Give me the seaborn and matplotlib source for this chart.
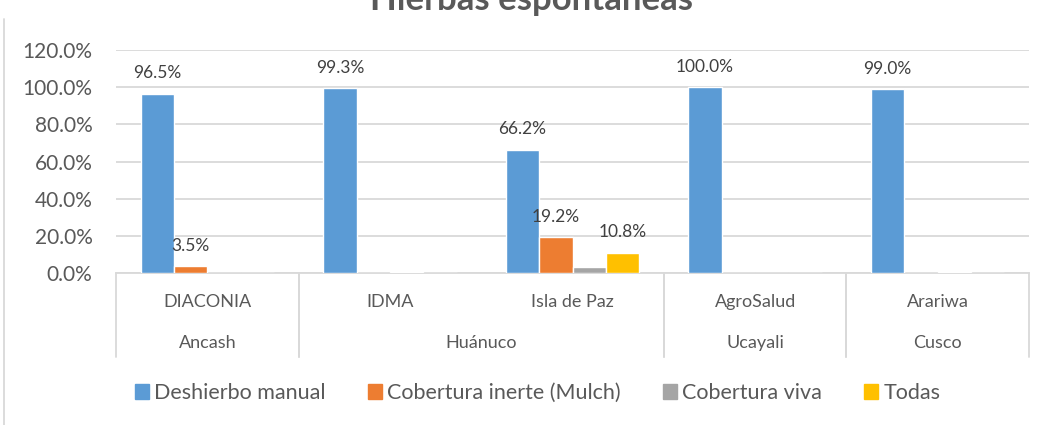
import pandas as pd
import matplotlib.pyplot as plt
import matplotlib.ticker as mticker
import seaborn as sns

# Data
organizaciones = ["DIACONIA", "IDMA", "Isla de Paz", "AgroSalud", "Arariwa"]
regiones = ["Ancash", "Huánuco", "Huánuco", "Ucayali", "Cusco"]
series = ["Deshierbo manual", "Cobertura inerte (Mulch)", "Cobertura viva", "Todas"]
deshierbo = [96.5, 99.3, 66.2, 100.0, 99.0]
mulch = [3.5, 0.0, 19.2, 0.0, 0.0]
viva = [0.0, 0.5, 3.0, 0.0, 0.5]
todas = [0.0, 0.0, 10.8, 0.0, 0.0]
colores = ["#5B9BD5", "#ED7D31", "#A5A5A5", "#FFC000"]

TXT = "#595959"
GRID = "#D9D9D9"


def build_df():
    rows = []
    for name, vals in zip(series, [deshierbo, mulch, viva, todas]):
        for org, v in zip(organizaciones, vals):
            rows.append({"Organizacion": org, "Metodo": name, "Valor": v})
    return pd.DataFrame(rows)


sns.set_theme(style="white")
plt.rcParams["font.family"] = ["Lato", "DejaVu Sans"]

df = build_df()
fig = plt.figure(figsize=(10.46, 4.25), dpi=100)
ax = fig.add_axes([116 / 1046, 1 - 273 / 425, (1029 - 116) / 1046, 223 / 425])

sns.barplot(data=df, x="Organizacion", y="Valor", hue="Metodo", order=organizaciones,
            hue_order=series, palette=colores, width=0.73, saturation=1,
            errorbar=None, ax=ax, legend=True, zorder=3)

ax.set_xlim(-0.5, 4.5)
ax.set_ylim(0, 120)
ax.yaxis.set_major_locator(mticker.MultipleLocator(20))
ax.yaxis.set_major_formatter(mticker.FuncFormatter(lambda v, p: f"{v:.1f}%"))
ax.tick_params(axis="y", length=0, pad=17, labelsize=15, labelcolor=TXT)
ax.tick_params(axis="x", length=0, labelbottom=False)
ax.set_xlabel("")
ax.set_ylabel("")
ax.yaxis.grid(True, color=GRID, lw=1.3, zorder=0)
for s in ["top", "right", "left"]:
    ax.spines[s].set_visible(False)
ax.spines["bottom"].set_color(GRID)
ax.spines["bottom"].set_linewidth(1.3)

# data labels (grey series has none, zero values hidden)
for i, cont in enumerate(ax.containers):
    vals = [deshierbo, mulch, viva, todas][i]
    labs = [f"{v:.1f}%" if (v > 0 and i != 2) else "" for v in vals]
    ax.bar_label(cont, labels=labs, padding=9, fontsize=12.5, color="#404040", zorder=4)

# two-level category axis
trans = ax.get_xaxis_transform()
for k, org in enumerate(organizaciones):
    ax.text(k, -0.13, org, transform=trans, ha="center", va="center", fontsize=13, color=TXT)
grupos = []
for k, reg in enumerate(regiones):
    if grupos and grupos[-1][0] == reg:
        grupos[-1][2] = k
    else:
        grupos.append([reg, k, k])
for reg, a, b in grupos:
    ax.text((a + b) / 2, -0.314, reg, transform=trans, ha="center", va="center", fontsize=13, color=TXT)
    for xl in (a - 0.5, b + 0.5):
        ax.plot([xl, xl], [0, -0.377], transform=trans, color=GRID, lw=1.3, clip_on=False)

ax.get_legend().remove()
handles = [plt.Rectangle((0, 0), 1, 1, color=c) for c in colores]
fig.legend(handles, series, loc="center", bbox_to_anchor=(0.514, 1 - 393 / 425), ncol=4,
           frameon=False, fontsize=15.5, labelcolor=TXT, handlelength=0.65, handleheight=0.65,
           handletextpad=0.25, columnspacing=1.95)

fig.text(0.508, 1 - 10 / 425, "Hierbas espontáneas", ha="center", va="baseline",
         fontsize=25, fontweight="bold", color=TXT)

# chart border at the left edge
fig.add_artist(plt.Line2D([4 / 1046, 4 / 1046], [0, 1 - 19 / 425], color=GRID, lw=1.3))

fig.savefig("out.png", dpi=100)
